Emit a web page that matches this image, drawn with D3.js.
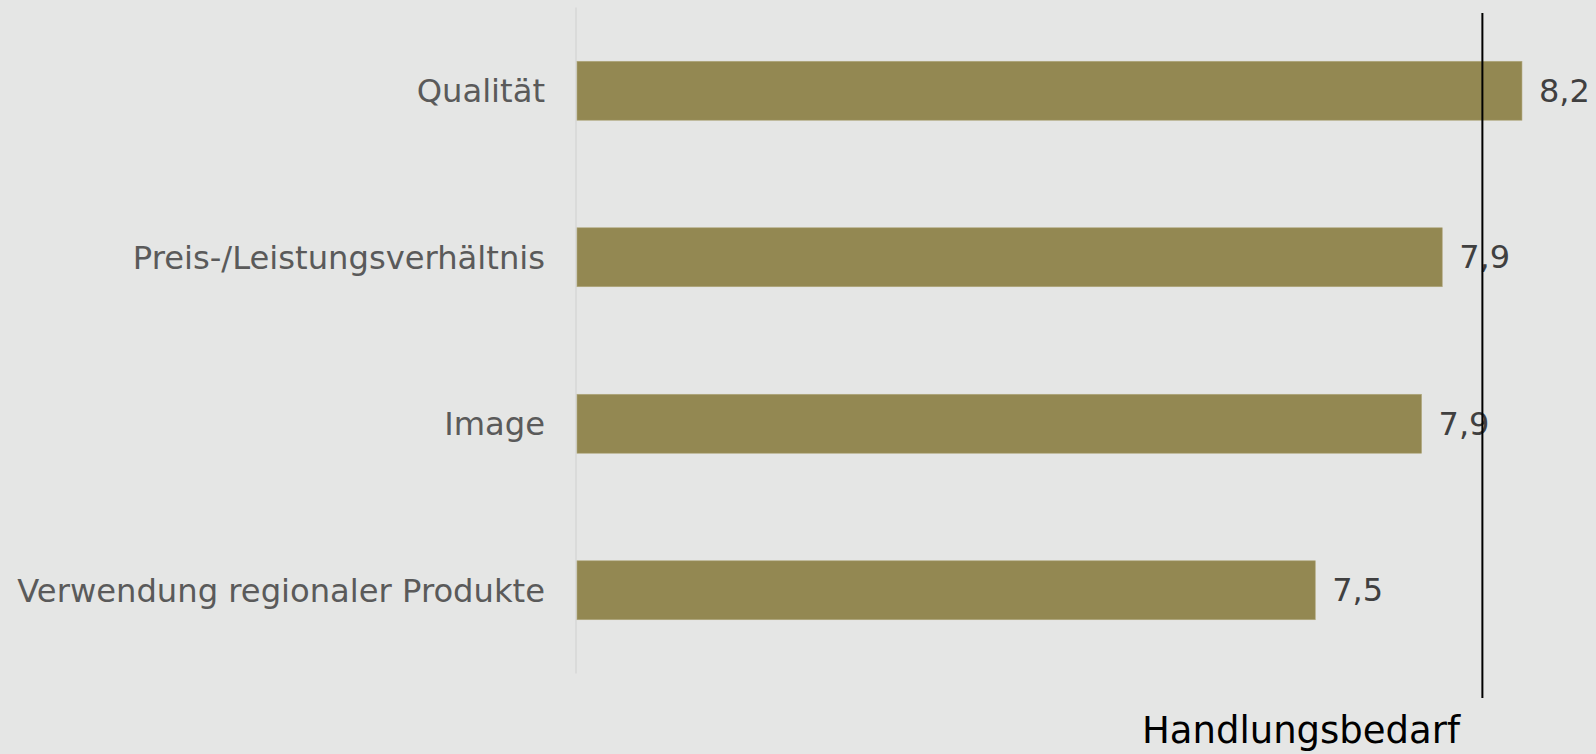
<!DOCTYPE html>
<html>
<head>
<meta charset="utf-8">
<script src="https://cdn.jsdelivr.net/npm/d3@7"></script>
<style>
  html, body { margin: 0; padding: 0; background: #e5e6e5; }
  svg { display: block; }
  text { font-family: "DejaVu Sans", Verdana, sans-serif; }
</style>
</head>
<body>
<svg id="chart" width="1596" height="754"></svg>
<script>
const categories = ["Qualität", "Preis-/Leistungsverhältnis", "Image", "Verwendung regionaler Produkte"];
const values = [8.2, 7.93, 7.86, 7.5];
const thresholdValue = 8.066;
const thresholdLabel = "Handlungsbedarf";

const W = 1596, H = 754;
const svg = d3.select("#chart");
svg.append("rect").attr("width", W).attr("height", H).attr("fill", "#e5e6e5");

const x = d3.scaleLinear().domain([5, 9]).range([577, 577 + 4 * 295.3]);
const y = d3.scaleBand().domain(categories).range([7.5, 673.5]).paddingInner(0.646).paddingOuter(0.323);

// baseline axis line
svg.append("line")
  .attr("x1", 576).attr("x2", 576)
  .attr("y1", y.range()[0]).attr("y2", y.range()[1])
  .attr("stroke", "#d6d7d6").attr("stroke-width", 1.5);

// bars
svg.selectAll("rect.bar").data(categories).join("rect")
  .attr("class", "bar")
  .attr("x", x(5))
  .attr("y", d => y(d))
  .attr("width", (d, i) => x(values[i]) - x(5))
  .attr("height", y.bandwidth())
  .attr("fill", "#938852")
  .attr("stroke", "#b0a77c").attr("stroke-width", 0.6);

// category labels
svg.selectAll("text.cat").data(categories).join("text")
  .attr("class", "cat")
  .attr("x", 545)
  .attr("y", d => y(d) + y.bandwidth() / 2)
  .attr("dy", "0.35em")
  .attr("text-anchor", "end")
  .attr("font-size", 32.2)
  .attr("fill", "#5a5a5a")
  .text(d => d);

// value labels
const fmt = v => d3.format(".1f")(v).replace(".", ",");
svg.selectAll("text.val").data(categories).join("text")
  .attr("class", "val")
  .attr("x", (d, i) => x(values[i]) + 17)
  .attr("y", d => y(d) + y.bandwidth() / 2)
  .attr("dy", "0.35em")
  .attr("font-size", 32)
  .attr("fill", "#404040")
  .text((d, i) => fmt(values[i]));

// threshold line
svg.append("line")
  .attr("x1", x(thresholdValue)).attr("x2", x(thresholdValue))
  .attr("y1", 13).attr("y2", 698)
  .attr("stroke", "#000").attr("stroke-width", 2);

svg.append("text")
  .attr("x", 1301).attr("y", 743)
  .attr("text-anchor", "middle")
  .attr("font-size", 37)
  .attr("fill", "#000")
  .text(thresholdLabel);
</script>
</body>
</html>
